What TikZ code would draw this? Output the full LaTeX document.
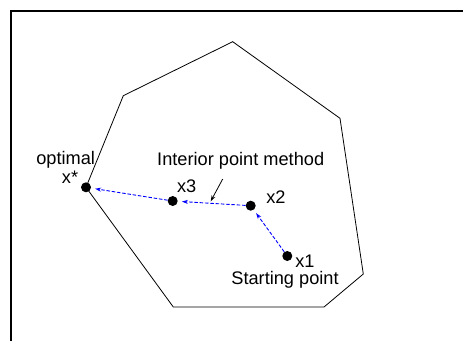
\documentclass[tikz,border=0pt]{standalone}
\usepackage{fontspec}
\setmainfont{Liberation Sans}
\usetikzlibrary{arrows.meta}
\begin{document}
\begin{tikzpicture}[x=1pt,y=-1pt,
  lbl/.style={font=\fontsize{18.2}{20}\selectfont, inner sep=0pt},
  pt/.style={circle, fill=black, inner sep=0pt, minimum size=10pt},
  stepline/.style={blue, dashed, dash pattern=on 3.5pt off 1.8pt, line width=0.9pt,
    -{Stealth[length=6pt,width=4pt]}, shorten >=4pt},
  region/.style={line width=0.8pt, line join=miter}]
\useasboundingbox (0,0) rectangle (463,341);
% outer frame, open to the right and bottom
\draw[line width=1.6pt] (11,341) -- (11,10.7) -- (463,10.7);
% feasible region
\draw[region] (232.7,41.7) -- (340,118.3) -- (363.3,274) -- (324,307)
  -- (173.3,307) -- (86,187.3) -- (123.3,95.7) -- cycle;
% iterates
\node[pt] (xs) at (86,187.3) {};
\node[pt] (x3) at (172.7,201) {};
\node[pt] (x2) at (250.7,205.7) {};
\node[pt] (x1) at (287.3,256) {};
% labels
\node[lbl] (lopt) at (65.7,159.3) {optimal};
\node[lbl] (lxs) at (70,177) {x*};
\node[lbl] (lx3) at (186.7,186.7) {x3};
\node[lbl] (lx2) at (276,196.7) {x2};
\node[lbl] (lx1) at (305,261) {x1};
\node[lbl] (lstart) at (285,280) {Starting point};
\node[lbl] (lipm) at (240.7,161) {Interior point method};
% path of the method
\draw[stepline] (x1) -- (x2);
\draw[stepline] (x2) -- (x3);
\draw[stepline] (x3) -- (xs);
% pointer to the path
\coordinate (ptail) at (222.7,179);
\coordinate (phead) at (210.7,201.3);
\draw[line width=0.8pt, -{Stealth[length=6pt,width=4pt]}] (ptail) -- (phead);
\end{tikzpicture}
\end{document}
